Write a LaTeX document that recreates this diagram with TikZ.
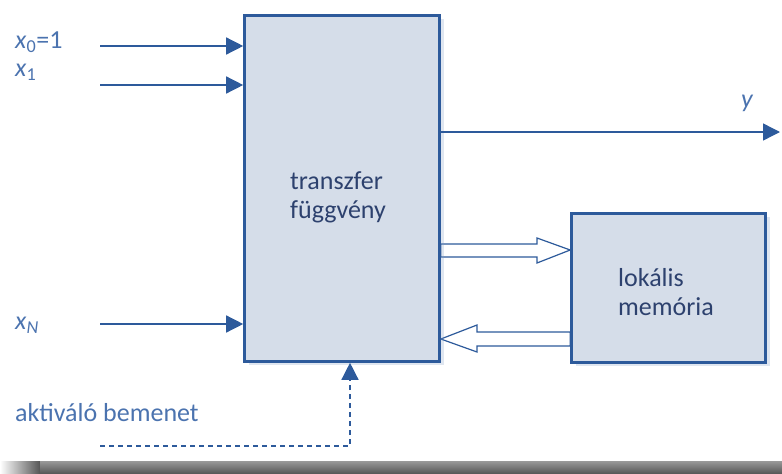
\documentclass[tikz,border=0pt]{standalone}
\usepackage{fontspec}
\setmainfont{Carlito}
\usetikzlibrary{arrows.meta, shadows}
\pgfdeclarelayer{background}
\pgfsetlayers{background,main}

\begin{document}
\begin{tikzpicture}[x=1pt, y=-1pt]
    \tikzstyle{doboz}  = [draw=kek, line width=2.6pt, fill=hatter, inner sep=0pt,
                          drop shadow={shadow xshift=4pt, shadow yshift=-3pt, opacity=0.25, fill=kek!60}]
    \tikzstyle{tran}   = [draw=kek, line width=1.4pt, -{Triangle[length=17pt, width=17pt]}]
    \tikzstyle{ures}   = [draw=kek, line width=1.2pt, fill=white]
    \tikzstyle{cimke}  = [text=cimkeszin, anchor=west, inner sep=0pt, font=\fontsize{26}{29}\selectfont]
    \tikzstyle{felirat} = [text=szoveg, anchor=west, align=left, inner sep=0pt, font=\fontsize{26}{29}\selectfont]

    \definecolor{kek}{RGB}{45,90,155}
    \definecolor{hatter}{RGB}{213,221,233}
    \definecolor{cimkeszin}{RGB}{75,115,175}
    \definecolor{szoveg}{RGB}{45,65,110}
    \definecolor{sav}{RGB}{85,85,85}

    \useasboundingbox (0,0) rectangle (782,474);

    % Dobozok
    \node[doboz, minimum width=195pt, minimum height=346pt] (fv) at (342,188.5) {};
    \node[doboz, minimum width=194pt, minimum height=149pt] (mem) at (668.5,288) {};
    \node[felirat] (fvt) at (290,197) {transzfer\\függvény};
    \node[felirat] (memt) at (618,292) {lokális\\memória};

    % Bemenetek
    \foreach \n/\y/\ly/\lab in {0/46/42/{\textit{x}\textsubscript{0}=1}, 1/85/72/{\textit{x}\textsubscript{1}}, N/324/325/{\textit{x}\textsubscript{\textit{N}}}} {
        \node[cimke] (lx\n) at (15,\ly) {\lab};
        \coordinate (be\n) at (100,\y);
        \draw[tran] (be\n) -- (be\n -| fv.west);
    }

    % Kimenet
    \coordinate (ki) at (780,132);
    \draw[tran] (ki -| fv.east) -- (ki);
    \node[cimke] (ly) at (741,103) {\textit{y}};

    % Aktiváló bemenet
    \node[cimke] (lakt) at (15,413) {aktiváló bemenet};
    \coordinate (akt) at (100,446);
    \coordinate (aktx) at (350,0);
    \draw[tran, dash pattern=on 5pt off 4pt] (akt) -| (aktx |- fv.south);

    % Üres nyilak a memória felé és vissza
    \begin{pgfonlayer}{background}
        \draw[ures] (fv.east |- 0,244) -- (537,244) -- (537,238) -- (mem.west |- 0,250)
                    -- (537,263) -- (537,257) -- (fv.east |- 0,257) -- cycle;
        \draw[ures] (mem.west |- 0,332) -- (477,332) -- (477,325) -- (fv.east |- 0,339)
                    -- (477,352) -- (477,346) -- (mem.west |- 0,346) -- cycle;
    \end{pgfonlayer}

    % Alsó sáv
    \shade[left color=white, right color=sav] (0,461) rectangle (40,474);
    \shade[top color=sav!60, bottom color=sav] (40,461) rectangle (782,474);
\end{tikzpicture}
\end{document}
